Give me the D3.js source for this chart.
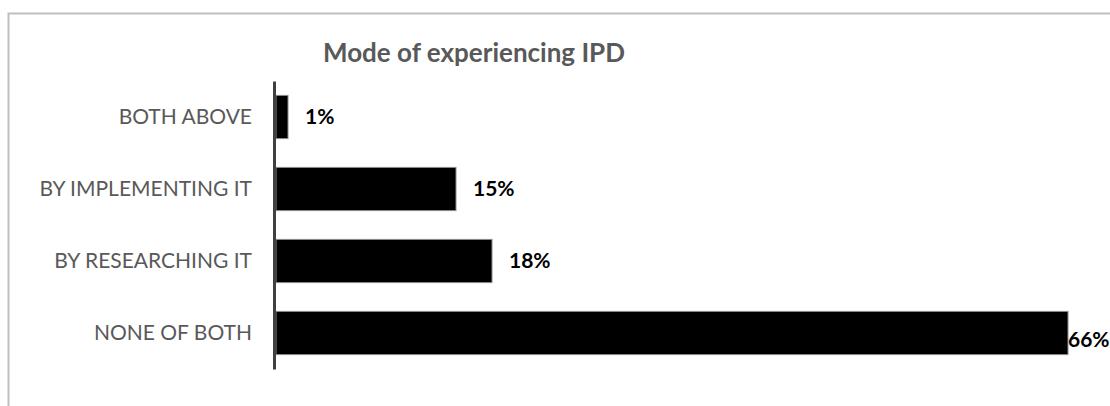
<!DOCTYPE html>
<html>
<head>
<meta charset="utf-8">
<script src="https://cdn.jsdelivr.net/npm/d3@7"></script>
<style>
  html, body { margin: 0; padding: 0; background: #fff; }
  svg { display: block; }
  text { font-family: Lato, "Open Sans", sans-serif; }
</style>
</head>
<body>
<svg id="chart" width="1110" height="406"></svg>
<script>
// Survey answers: how respondents have experienced IPD
const categories = ["BOTH ABOVE", "BY IMPLEMENTING IT", "BY RESEARCHING IT", "NONE OF BOTH"];
const shares = [1, 15, 18, 66];          // percent of respondents
const valueLabels = ["1%", "15%", "18%", "66%"];
const chartTitle = "Mode of experiencing IPD";

const W = 1110, H = 406;
const svg = d3.select("#chart");

// chart area frame (top and left edges visible)
svg.append("path")
  .attr("d", `M8.5,${H} V13.5 H${W}`)
  .attr("fill", "none")
  .attr("stroke", "#bfbfbf")
  .attr("stroke-width", 2);

const plot = { left: 276, right: 1068, top: 81, bottom: 369 };

const x = d3.scaleLinear()
  .domain([0, d3.max(shares)])
  .range([plot.left, plot.right]);

const y = d3.scaleBand()
  .domain(categories)
  .range([plot.top, plot.bottom])
  .paddingInner(0.4)
  .paddingOuter(0.2);

// title
svg.append("text")
  .attr("x", 474)
  .attr("y", 62)
  .attr("text-anchor", "middle")
  .attr("font-size", 26)
  .attr("font-weight", "bold")
  .attr("fill", "#595959")
  .text(chartTitle);

// bars
svg.append("g")
  .selectAll("rect")
  .data(shares)
  .join("rect")
  .attr("x", x(0))
  .attr("y", (d, i) => y(categories[i]))
  .attr("width", d => x(d) - x(0))
  .attr("height", y.bandwidth())
  .attr("fill", "#000")
  .attr("stroke", "#8c8c8c")
  .attr("stroke-width", 1);

// category axis
const yAxis = d3.axisLeft(y).tickSize(0).tickPadding(22);
const gy = svg.append("g")
  .attr("transform", `translate(${plot.left - 2},0)`)
  .call(yAxis);
gy.select(".domain")
  .attr("stroke", "#404040")
  .attr("stroke-width", 3);
gy.selectAll(".tick text")
  .attr("font-family", "Lato, 'Open Sans', sans-serif")
  .attr("font-size", 21)
  .attr("fill", "#595959");

// value labels; a label that would run past the frame sits right at the bar end
const labelPad = 17;
const labels = svg.append("g")
  .selectAll("text")
  .data(shares)
  .join("text")
  .attr("font-size", 21)
  .attr("font-weight", "bold")
  .attr("fill", "#000")
  .text((d, i) => valueLabels[i]);

labels.each(function (d, i) {
  const t = d3.select(this);
  const w = this.getComputedTextLength();
  const cy = y(categories[i]) + y.bandwidth() / 2;
  let lx = x(d) + labelPad, dy = 0.35;
  if (lx + w > W - 2) { lx = x(d); dy = 0.65; }
  t.attr("x", lx).attr("y", cy).attr("dy", dy + "em");
});
</script>
</body>
</html>
